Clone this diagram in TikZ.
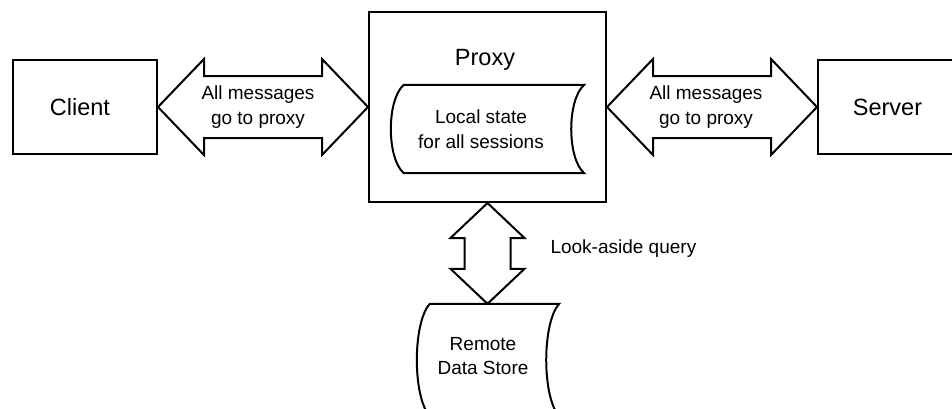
\documentclass[tikz,border=0pt]{standalone}
\usepackage{fontspec}
\setmainfont{Liberation Sans}
\usetikzlibrary{calc}
\tikzset{
  outline/.style={draw=black, line width=2pt, line join=miter},
  bigtxt/.style={font=\fontsize{23.5}{28}\selectfont},
  smalltxt/.style={font=\fontsize{19}{24.5}\selectfont, align=center},
  boxnode/.style={outline, inner sep=0pt, minimum width=144pt, minimum height=94pt},
  slot/.style={inner sep=0pt},
}
\begin{document}
\begin{tikzpicture}[x=1pt, y=-1pt]
  \useasboundingbox (0,0) rectangle (952,408);
  \clip (0,0) rectangle (952,408);

  % end points and the proxy in the middle
  \node[boxnode, label={[bigtxt, xshift=-5pt]center:Client}] (client) at (85,107) {};
  \node[boxnode, label={[bigtxt, xshift=-2.5pt]center:Server}] (server) at (890,107) {};
  \node[outline, inner sep=0pt, minimum width=237pt, minimum height=190pt] (proxy) at (487.5,107) {};
  \node[bigtxt, anchor=base] (proxytitle) at (485,65) {Proxy};

  % stored-data shapes: frames for the outlines below
  \node[slot, minimum width=180pt, minimum height=88pt,
        label={[smalltxt, xshift=-13pt]center:{Local state\\for all sessions}}] (local) at (494,129) {};
  \node[slot, minimum width=129pt, minimum height=112pt,
        label={[smalltxt, xshift=-11.5pt, yshift=4pt]center:{Remote\\Data Store}}] (store) at (494.5,360) {};

  \draw[outline] (local.north west) -- (local.north east)
     .. controls +(-17.3,15) and +(-17.3,-15) .. (local.south east)
     -- (local.south west)
     .. controls +(-17.3,-15) and +(-17.3,15) .. (local.north west) -- cycle;
  \draw[outline] (store.north west) -- (store.north east)
     .. controls +(-17.3,19) and +(-17.3,-19) .. (store.south east)
     -- (store.south west)
     .. controls +(-17.3,-19) and +(-17.3,19) .. (store.north west) -- cycle;

  % client <-> proxy
  \draw[outline] (client.east) -- ++(46,-48) -- ++(0,17)
     -- ($(proxy.west)+(-46,-31)$) -- ++(0,-17) -- (proxy.west)
     -- ++(-46,48) -- ++(0,-17) -- ($(client.east)+(46,31)$) -- ++(0,17) -- cycle;
  \node[smalltxt] (lmsg) at (258,107) {All messages\\go to proxy};

  % proxy <-> server
  \draw[outline] (proxy.east) -- ++(46,-48) -- ++(0,17)
     -- ($(server.west)+(-46,-31)$) -- ++(0,-17) -- (server.west)
     -- ++(-46,48) -- ++(0,-17) -- ($(proxy.east)+(46,31)$) -- ++(0,17) -- cycle;
  \node[smalltxt] (rmsg) at (706,107) {All messages\\go to proxy};

  % proxy <-> remote data store
  \coordinate (storetop) at (proxy.south |- store.north);
  \draw[outline] (proxy.south) -- ++(-37,35) -- ++(14,0)
     -- ($(storetop)+(-23,-35)$) -- ++(-14,0) -- (storetop)
     -- ++(37,-35) -- ++(-14,0) -- ($(proxy.south)+(23,35)$) -- ++(14,0) -- cycle;
  \node[smalltxt, anchor=base west] (query) at (547,253) {Look-aside query};
\end{tikzpicture}
\end{document}
